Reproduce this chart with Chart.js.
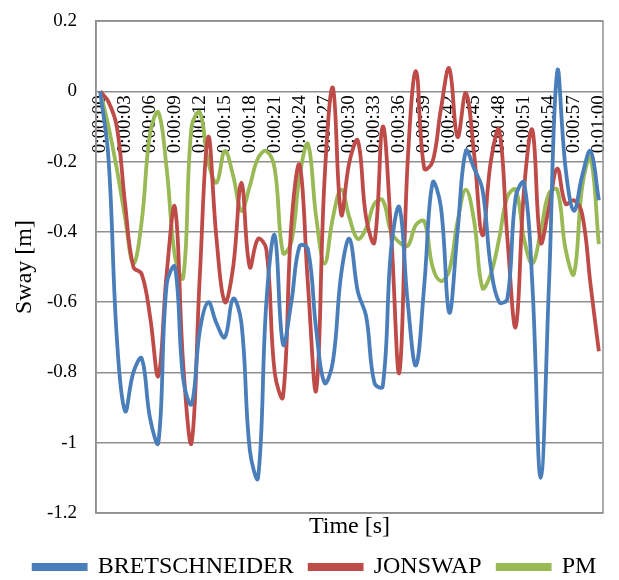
<!DOCTYPE html>
<html>
<head>
<meta charset="utf-8">
<script src="https://cdn.jsdelivr.net/npm/chart.js@4/dist/chart.umd.min.js"></script>
<style>
  html, body { margin: 0; padding: 0; background: #fff; }
  #wrap { width: 619px; height: 580px; }
</style>
</head>
<body>
<div id="wrap"><canvas id="swayChart"></canvas></div>
<script>
// time steps, one per second (0:00:00 .. 0:01:00)
const seconds = Array.from({ length: 61 }, (_, i) => i);
const timeLabels = seconds.map(s => '0:' + String(Math.floor(s / 60)).padStart(2, '0') + ':' + String(s % 60).padStart(2, '0'));

// sway [m]
const bretschneider = [0, -0.19, -0.70, -0.91, -0.80, -0.76, -0.93, -1.0, -0.55, -0.50,
  -0.82, -0.89, -0.68, -0.60, -0.66, -0.70, -0.59, -0.66, -1.02, -1.10,
  -0.60, -0.41, -0.72, -0.60, -0.44, -0.45, -0.68, -0.83, -0.77, -0.52,
  -0.42, -0.57, -0.64, -0.83, -0.84, -0.45, -0.33, -0.60, -0.78, -0.55,
  -0.26, -0.33, -0.63, -0.40, -0.17, -0.22, -0.28, -0.50, -0.60, -0.59,
  -0.30, -0.26, -0.55, -1.10, -0.55, 0.057, -0.22, -0.34, -0.24, -0.17, -0.31];

const jonswap = [0, -0.03, -0.10, -0.32, -0.50, -0.52, -0.64, -0.81, -0.52, -0.33,
  -0.78, -1.0, -0.52, -0.13, -0.42, -0.60, -0.50, -0.26, -0.50, -0.42,
  -0.45, -0.80, -0.87, -0.38, -0.21, -0.55, -0.85, -0.25, 0.01, -0.35,
  -0.20, -0.14, -0.36, -0.43, -0.10, -0.40, -0.80, -0.20, 0.057, -0.22,
  -0.20, -0.05, 0.065, -0.13, -0.005, -0.18, -0.41, -0.20, -0.11, -0.42,
  -0.67, -0.28, -0.11, -0.43, -0.33, -0.22, -0.32, -0.31, -0.35, -0.55, -0.74];

const pm = [0, -0.10, -0.22, -0.36, -0.49, -0.37, -0.12, -0.06, -0.22, -0.47,
  -0.53, -0.10, -0.06, -0.20, -0.26, -0.17, -0.24, -0.34, -0.27, -0.19,
  -0.17, -0.22, -0.46, -0.43, -0.24, -0.15, -0.36, -0.49, -0.36, -0.28,
  -0.36, -0.42, -0.39, -0.32, -0.31, -0.40, -0.43, -0.44, -0.38, -0.37,
  -0.50, -0.54, -0.51, -0.37, -0.28, -0.37, -0.56, -0.52, -0.42, -0.30,
  -0.28, -0.42, -0.49, -0.40, -0.29, -0.28, -0.45, -0.52, -0.27, -0.19, -0.435];

const FONT = "'Liberation Serif', 'Times New Roman', serif";
const GRID = '#8f8f8f';

// frame around the plot area
const frame = {
    id: 'frame',
    beforeDatasetsDraw(chart) {
        const { ctx, chartArea: a } = chart;
        ctx.save();
        ctx.strokeStyle = GRID;
        ctx.lineWidth = 1.5;
        ctx.strokeRect(a.left, a.top, a.right - a.left, a.bottom - a.top);
        ctx.restore();
    }
};

function line(label, data, color) {
    return {
        label: label,
        data: data,
        borderColor: color,
        backgroundColor: color,
        borderWidth: 3.8,
        pointRadius: 0,
        tension: 0.4,
        fill: false
    };
}

new Chart(document.getElementById('swayChart'), {
    type: 'line',
    data: {
        labels: timeLabels,
        datasets: [
            line('BRETSCHNEIDER', bretschneider, '#4A7EBB'),
            line('JONSWAP', jonswap, '#BE4B48'),
            line('PM', pm, '#98B954')
        ]
    },
    options: {
        responsive: true,
        maintainAspectRatio: false,
        animation: false,
        layout: { padding: { top: 21, right: 4, left: 15, bottom: -9 } },
        plugins: {
            legend: {
                position: 'bottom',
                labels: {
                    boxWidth: 52,
                    boxHeight: 4,
                    padding: 16,
                    color: '#000',
                    font: { family: FONT, size: 24 }
                }
            },
            tooltip: { enabled: false }
        },
        scales: {
            x: {
                type: 'category',
                position: { y: 0 },
                offset: true,
                grid: { display: false, drawTicks: false },
                border: { display: false },
                ticks: {
                    autoSkip: false,
                    minRotation: 90,
                    maxRotation: 90,
                    padding: 4,
                    color: '#000',
                    font: { family: FONT, size: 19 },
                    callback: (val, i) => (i % 3 === 0 ? timeLabels[i] : '')
                },
                afterFit: s => { s.paddingLeft = 0; s.paddingRight = 0; }
            },
            x2: {
                type: 'category',
                position: 'bottom',
                grid: { display: false, drawTicks: false },
                border: { display: false },
                ticks: { display: false },
                title: {
                    display: true,
                    text: 'Time [s]',
                    color: '#000',
                    font: { family: FONT, size: 24, lineHeight: 1 },
                    padding: { top: 2, bottom: 0 }
                }
            },
            y: {
                min: -1.2,
                max: 0.2,
                grid: { color: GRID, lineWidth: 1.5, drawTicks: false },
                border: { display: true, color: GRID, width: 1.5 },
                ticks: {
                    stepSize: 0.2,
                    padding: 19,
                    color: '#000',
                    font: { family: FONT, size: 19 },
                    callback: v => String(Math.round(v * 10) / 10)
                },
                title: {
                    display: true,
                    text: 'Sway [m]',
                    color: '#000',
                    font: { family: FONT, size: 24 },
                    padding: { top: -5, bottom: 0 }
                },
                afterFit: s => { s.width = 81; s.paddingTop = 0; s.paddingBottom = 0; }
            },
            // empty right axis, only keeps the plot edge at the right place
            y2: {
                position: 'right',
                grid: { display: false, drawTicks: false },
                border: { display: false },
                ticks: { display: false },
                afterFit: s => { s.width = 12; s.paddingTop = 0; s.paddingBottom = 0; }
            }
        }
    },
    plugins: [frame]
});
</script>
</body>
</html>
